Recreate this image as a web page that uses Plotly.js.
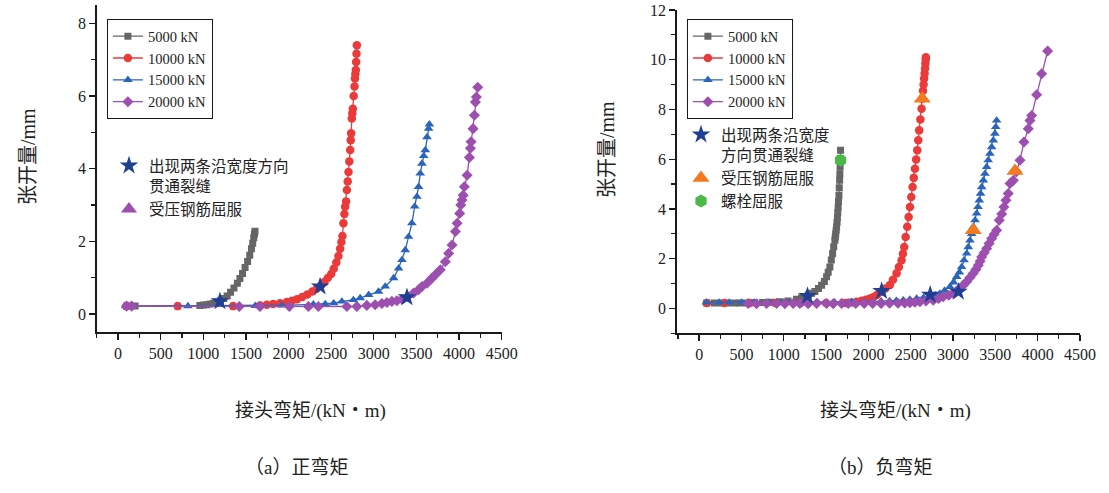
<!DOCTYPE html>
<html>
<head>
<meta charset="utf-8">
<script src="https://cdn.plot.ly/plotly-3.0.1.min.js"></script>
<style>
  html, body { margin: 0; padding: 0; background: #fff; }
  #chart { width: 1109px; height: 493px; }
</style>
</head>
<body>
<div id="chart"></div>
<script>
// (a) 正弯矩 : 接头弯矩 (kN·m) -> 张开量 (mm)
let pos_m5 = [100, 200, 960, 1000, 1040, 1080, 1120, 1160, 1200, 1240, 1280, 1320, 1360, 1400, 1430, 1460, 1490, 1520, 1545, 1565, 1580, 1592, 1600, 1606];
let pos_v5 = [0.22, 0.22, 0.24, 0.25, 0.26, 0.28, 0.30, 0.33, 0.37, 0.43, 0.50, 0.60, 0.72, 0.85, 0.98, 1.12, 1.28, 1.45, 1.62, 1.80, 1.95, 2.10, 2.20, 2.28];

let pos_m10 = [100, 700, 1350, 1665, 1745, 1820, 1900, 1980, 2040, 2100, 2160, 2220, 2280, 2330, 2380, 2420, 2460, 2500, 2530, 2560, 2585, 2605, 2620, 2632, 2644, 2655, 2664, 2675, 2684, 2694, 2703, 2713, 2723, 2729, 2734, 2742, 2748, 2754, 2764, 2774, 2779, 2784, 2789, 2793, 2797, 2801];
let pos_v10 = [0.22, 0.22, 0.22, 0.24, 0.26, 0.28, 0.30, 0.33, 0.37, 0.41, 0.47, 0.54, 0.62, 0.70, 0.79, 0.88, 0.99, 1.10, 1.25, 1.42, 1.60, 1.80, 1.98, 2.15, 2.50, 2.75, 2.95, 3.10, 3.41, 3.65, 3.91, 4.20, 4.51, 4.78, 4.97, 5.38, 5.52, 5.65, 6.00, 6.26, 6.48, 6.60, 6.71, 6.93, 7.16, 7.39];

let pos_m15 = [90, 820, 1610, 1920, 2291, 2430, 2530, 2625, 2760, 2840, 2940, 3055, 3134, 3232, 3291, 3330, 3369, 3408, 3447, 3480, 3506, 3525, 3545, 3565, 3585, 3604, 3624, 3643, 3652];
let pos_v15 = [0.22, 0.22, 0.23, 0.24, 0.27, 0.28, 0.30, 0.35, 0.39, 0.44, 0.53, 0.62, 0.76, 0.99, 1.26, 1.49, 1.76, 2.13, 2.50, 2.96, 3.23, 3.50, 3.87, 4.14, 4.35, 4.51, 4.87, 5.10, 5.22];

let pos_m20 = [100, 160, 1422, 1665, 2009, 2233, 2350, 2684, 2801, 2918, 3016, 3095, 3154, 3212, 3271, 3330, 3396, 3467, 3525, 3565, 3624, 3683, 3722, 3780, 3839, 3878, 3918, 3957, 3977, 4007, 4020, 4035, 4048, 4062, 4094, 4121, 4133, 4141, 4164, 4180, 4192, 4203, 4219];
let pos_v20 = [0.22, 0.22, 0.21, 0.21, 0.21, 0.21, 0.21, 0.21, 0.21, 0.24, 0.26, 0.29, 0.32, 0.35, 0.37, 0.41, 0.48, 0.58, 0.67, 0.76, 0.85, 0.99, 1.08, 1.22, 1.44, 1.67, 1.90, 2.27, 2.50, 2.77, 3.00, 3.14, 3.27, 3.50, 3.82, 4.31, 4.56, 4.74, 5.10, 5.47, 5.83, 5.97, 6.24];

// events (a) ; no compression-yield point can be seen in (a), only its key
let pos_crack_m = [1195, 2370, 3389];
let pos_crack_v = [0.35, 0.76, 0.46];
let pos_yield_m = [null];
let pos_yield_v = [null];

// (b) 负弯矩
let neg_m5 = [90, 180, 260, 340, 420, 480, 560, 650, 750, 850, 950, 1050, 1150, 1210, 1250, 1290, 1330, 1368, 1410, 1447, 1480, 1506, 1525, 1545, 1562, 1577, 1590, 1604, 1609, 1614, 1619, 1624, 1629, 1634, 1638, 1643, 1647, 1652, 1656, 1660, 1663, 1666, 1669, 1671];
let neg_v5 = [0.22, 0.22, 0.22, 0.22, 0.22, 0.22, 0.22, 0.23, 0.24, 0.25, 0.27, 0.30, 0.37, 0.43, 0.48, 0.54, 0.61, 0.68, 0.80, 0.93, 1.08, 1.27, 1.45, 1.67, 1.95, 2.21, 2.48, 2.74, 2.87, 3.00, 3.14, 3.28, 3.46, 3.65, 3.86, 4.08, 4.30, 4.55, 4.85, 5.15, 5.42, 5.70, 6.03, 6.36];

let neg_m10 = [90, 300, 600, 900, 1200, 1500, 1700, 1742, 1800, 1861, 1920, 1970, 2018, 2060, 2100, 2156, 2200, 2254, 2290, 2333, 2360, 2392, 2408, 2423, 2440, 2459, 2475, 2491, 2506, 2522, 2536, 2550, 2564, 2577, 2589, 2600, 2614, 2628, 2636, 2645, 2652, 2658, 2664, 2669, 2673, 2677, 2679];
let neg_v10 = [0.22, 0.22, 0.22, 0.22, 0.22, 0.22, 0.22, 0.22, 0.24, 0.27, 0.31, 0.35, 0.40, 0.46, 0.54, 0.67, 0.80, 0.94, 1.15, 1.41, 1.67, 1.94, 2.20, 2.47, 2.87, 3.28, 3.68, 4.08, 4.48, 4.88, 5.25, 5.62, 5.99, 6.36, 6.76, 7.16, 7.60, 8.03, 8.43, 8.75, 9.00, 9.25, 9.45, 9.65, 9.85, 10.00, 10.10];

let neg_m15 = [87, 236, 355, 500, 650, 816, 1000, 1200, 1400, 1600, 1800, 1950, 2050, 2150, 2250, 2330, 2411, 2490, 2570, 2650, 2727, 2790, 2845, 2900, 2963, 3005, 3043, 3075, 3102, 3130, 3161, 3180, 3200, 3220, 3239, 3260, 3279, 3295, 3310, 3325, 3338, 3358, 3377, 3397, 3416, 3436, 3456, 3476, 3495, 3505, 3515];
let neg_v15 = [0.24, 0.24, 0.24, 0.24, 0.24, 0.24, 0.24, 0.24, 0.25, 0.25, 0.26, 0.27, 0.28, 0.29, 0.30, 0.31, 0.33, 0.36, 0.40, 0.43, 0.47, 0.53, 0.60, 0.72, 0.87, 1.05, 1.27, 1.45, 1.67, 1.94, 2.21, 2.47, 2.74, 3.00, 3.28, 3.55, 3.82, 4.08, 4.35, 4.62, 4.88, 5.15, 5.42, 5.69, 5.96, 6.22, 6.49, 6.76, 7.03, 7.30, 7.56];

let neg_m20 = [579, 678, 797, 915, 1013, 1111, 1190, 1288, 1388, 1506, 1584, 1683, 1761, 1850, 1950, 2050, 2150, 2250, 2350, 2430, 2491, 2550, 2609, 2680, 2766, 2830, 2884, 2950, 3002, 3040, 3082, 3120, 3161, 3200, 3239, 3270, 3298, 3320, 3338, 3368, 3397, 3426, 3456, 3486, 3515, 3546, 3575, 3601, 3625, 3652, 3673, 3712, 3750, 3791, 3838, 3889, 3909, 3929, 3988, 4047, 4118];
let neg_v20 = [0.20, 0.19, 0.20, 0.20, 0.19, 0.20, 0.20, 0.19, 0.20, 0.20, 0.19, 0.20, 0.20, 0.20, 0.20, 0.20, 0.20, 0.21, 0.21, 0.22, 0.23, 0.25, 0.27, 0.30, 0.33, 0.40, 0.47, 0.53, 0.60, 0.70, 0.80, 0.93, 1.07, 1.24, 1.41, 1.57, 1.74, 1.90, 2.07, 2.24, 2.41, 2.61, 2.81, 2.98, 3.14, 3.55, 3.80, 4.08, 4.35, 4.62, 5.02, 5.15, 5.50, 5.96, 6.69, 7.23, 7.56, 7.76, 8.59, 9.44, 10.35];

// events (b)
let neg_crack_m = [1280, 2156, 2730, 3063];
let neg_crack_v = [0.50, 0.70, 0.55, 0.67];
let neg_yield_m = [2636, 3239, 3732];
let neg_yield_v = [8.43, 3.14, 5.53];
let neg_bolt_m = [1671];
let neg_bolt_v = [5.96];

let loads = ['5000 kN', '10000 kN', '15000 kN', '20000 kN'];
let colors = ['#666666', '#ea3a3a', '#2a64bb', '#9d4fb0'];
let symbols = ['square', 'circle', 'triangle-up', 'diamond'];
let sizes = [7, 8.5, 8.5, 8.5];

let serif = 'Liberation Serif, Noto Sans CJK SC, serif';
let cjk = 'Noto Sans CJK SC, sans-serif';

function serie(x, y, i, xa, ya, leg) {
    return {
        type: 'scatter', mode: 'lines+markers',
        x: x, y: y, name: loads[i],
        xaxis: xa, yaxis: ya, legend: leg,
        line: {color: colors[i], width: 1.3},
        marker: {color: colors[i], symbol: symbols[i], size: sizes[i]},
    };
}

function event(x, y, name, color, symbol, size, xa, ya, leg, rank) {
    return {
        type: 'scatter', mode: 'markers',
        x: x, y: y, name: name,
        xaxis: xa, yaxis: ya, legend: leg, legendrank: rank,
        marker: {color: color, symbol: symbol, size: size, line: {width: 0}},
    };
}

var data = [
    serie(pos_m5, pos_v5, 0, 'x', 'y', 'legend'),
    serie(pos_m10, pos_v10, 1, 'x', 'y', 'legend'),
    serie(pos_m15, pos_v15, 2, 'x', 'y', 'legend'),
    serie(pos_m20, pos_v20, 3, 'x', 'y', 'legend'),
    event(pos_crack_m, pos_crack_v, '出现两条沿宽度方向<br>贯通裂缝', '#1f3f95', 'star', 14, 'x', 'y', 'legend3', 1),
    event(pos_yield_m, pos_yield_v, '受压钢筋屈服', '#9d4fb0', 'triangle-up', 14, 'x', 'y', 'legend3', 2),

    serie(neg_m5, neg_v5, 0, 'x2', 'y2', 'legend2'),
    serie(neg_m10, neg_v10, 1, 'x2', 'y2', 'legend2'),
    serie(neg_m15, neg_v15, 2, 'x2', 'y2', 'legend2'),
    serie(neg_m20, neg_v20, 3, 'x2', 'y2', 'legend2'),
    event(neg_crack_m, neg_crack_v, '出现两条沿宽度<br>方向贯通裂缝', '#1f3f95', 'star', 14, 'x2', 'y2', 'legend4', 1),
    event(neg_yield_m, neg_yield_v, '受压钢筋屈服', '#f47a1f', 'triangle-up', 15, 'x2', 'y2', 'legend4', 2),
    event(neg_bolt_m, neg_bolt_v, '螺栓屈服', '#4cb848', 'hexagon', 13, 'x2', 'y2', 'legend4', 3),
];

function axe(domain, range, dtick, minor, extra) {
    let a = {
        domain: domain, range: range, dtick: dtick, tick0: 0,
        showgrid: false, zeroline: false,
        showline: true, linecolor: '#1a1a1a', linewidth: 1.5,
        ticks: 'outside', ticklen: 6, tickwidth: 1.3, tickcolor: '#1a1a1a',
        minor: {dtick: minor, tick0: 0, ticks: 'outside', ticklen: 4, tickwidth: 1.2, tickcolor: '#1a1a1a'},
        tickfont: {family: serif, size: 16, color: '#222'},
        fixedrange: true,
    };
    return Object.assign(a, extra || {});
}

function mirror(base, side, anchor, range, dtick, minor) {
    return {
        overlaying: base, side: side, anchor: anchor, range: range,
        dtick: dtick, tick0: 0, showticklabels: false,
        showgrid: false, zeroline: false,
        showline: true, linecolor: '#1a1a1a', linewidth: 1.5,
        ticks: 'inside', ticklen: 6, tickwidth: 1.3, tickcolor: '#1a1a1a',
        minor: {dtick: minor, tick0: 0, ticks: 'inside', ticklen: 4, tickwidth: 1.2, tickcolor: '#1a1a1a'},
        fixedrange: true,
    };
}

let xr1 = [-250, 4500], yr1 = [-0.5, 8.5];
let xr2 = [-265, 4500], yr2 = [-1, 12];

function px(x) { return x / 1109; }
function py(y) { return 1 - y / 493; }

function label(text, x, y, size, angle) {
    return {
        xref: 'paper', yref: 'paper', x: px(x), y: py(y),
        xanchor: 'center', yanchor: 'middle', showarrow: false,
        text: text, textangle: angle || 0,
        font: {family: serif, size: size, color: '#222'},
    };
}

var layout = {
    width: 1109, height: 493,
    margin: {l: 0, r: 0, t: 0, b: 0},
    paper_bgcolor: '#fff', plot_bgcolor: '#fff',
    font: {family: serif, size: 16, color: '#222'},
    xaxis: axe([px(96.7), px(501.7)], xr1, 500, 250, {anchor: 'y'}),
    yaxis: axe([py(332.3), py(5)], yr1, 2, 1, {anchor: 'x'}),
    xaxis3: mirror('x', 'top', 'y', xr1, 500, 250),
    yaxis3: mirror('y', 'right', 'x', yr1, 2, 1),
    xaxis2: axe([px(676.7), px(1080)], xr2, 500, 250, {anchor: 'y2'}),
    yaxis2: axe([py(333.3), py(10)], yr2, 2, 1, {anchor: 'x2'}),
    xaxis4: mirror('x2', 'top', 'y2', xr2, 500, 250),
    yaxis4: mirror('y2', 'right', 'x2', yr2, 2, 1),
    legend: {
        x: px(106.7), y: py(19), xanchor: 'left', yanchor: 'top',
        bgcolor: '#fff', bordercolor: '#1a1a1a', borderwidth: 1.2,
        font: {family: serif, size: 14.5, color: '#222'}, tracegroupgap: 0,
    },
    legend2: {
        x: px(686.7), y: py(19), xanchor: 'left', yanchor: 'top',
        bgcolor: '#fff', bordercolor: '#1a1a1a', borderwidth: 1.2,
        font: {family: serif, size: 14.5, color: '#222'}, tracegroupgap: 0,
    },
    legend3: {
        x: px(109), y: py(149), xanchor: 'left', yanchor: 'top',
        bgcolor: 'rgba(0,0,0,0)', borderwidth: 0, valign: 'top',
        font: {family: cjk, size: 15.5, color: '#222'}, tracegroupgap: 0,
    },
    legend4: {
        x: px(681), y: py(118), xanchor: 'left', yanchor: 'top',
        bgcolor: 'rgba(0,0,0,0)', borderwidth: 0, valign: 'top',
        font: {family: cjk, size: 15.5, color: '#222'}, tracegroupgap: 0,
    },
    annotations: [
        label('张开量/mm', 28, 157, 20, -90),
        label('张开量/mm', 607, 150, 20, -90),
        label('接头弯矩/(kN・m)', 310, 411, 19),
        label('接头弯矩/(kN・m)', 895, 411, 19),
        label('（a）正弯矩', 296, 467, 19),
        label('（b）负弯矩', 880, 467, 19),
    ],
};

var config = {displayModeBar: false, staticPlot: true};

Plotly.newPlot('chart', data, layout, config);
</script>
</body>
</html>
